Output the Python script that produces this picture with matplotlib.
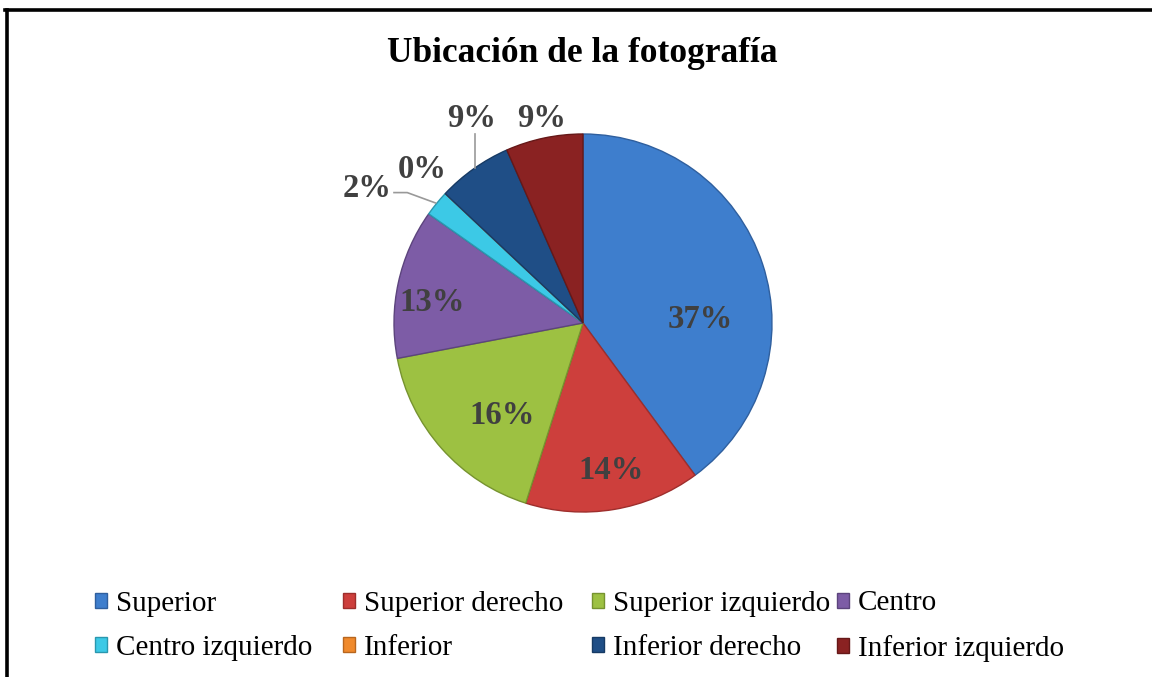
import matplotlib.pyplot as plt
from matplotlib.patches import Patch

# --- datos ---
categorias = ["Superior", "Superior derecho", "Superior izquierdo", "Centro",
              "Centro izquierdo", "Inferior", "Inferior derecho", "Inferior izquierdo"]
valores = [39.9, 15.0, 17.1, 12.8, 2.2, 0.0, 6.4, 6.6]   # tamaño de cada sector (leído)
etiquetas = ["37%", "14%", "16%", "13%", "2%", "0%", "9%", "9%"]
colores = ["#3E7ECD", "#CD3F3C", "#9DC142", "#7D5CA6",
           "#3CC9E6", "#F08A2C", "#1F4E86", "#8A2222"]
bordes = ["#2F5F9E", "#9E2E2C", "#76932F", "#5C447D",
          "#2A97AE", "#B8661E", "#163A64", "#661818"]

# posiciones de las etiquetas en unidades del radio
pos_etq = [(0.62, 0.02), (0.15, -0.78), (-0.43, -0.49), (-0.80, 0.11),
           (-1.14, 0.71), (-0.85, 0.81), (-0.59, 1.08), (-0.22, 1.08)]

W, H = 1152, 677
fig = plt.figure(figsize=(W / 100, H / 100), dpi=100)
fig.patch.set_facecolor("white")

# marco (solo borde superior e izquierdo visibles)
fig.add_artist(plt.Line2D([6.5 / W, 6.5 / W], [0, 1 - 10 / H], transform=fig.transFigure,
                          color="black", lw=2.6))
fig.add_artist(plt.Line2D([5 / W, 1], [1 - 10 / H, 1 - 10 / H], transform=fig.transFigure,
                          color="black", lw=2.6))

# titulo
fig.text(582 / W, 1 - 53 / H, "Ubicación de la fotografía", ha="center", va="center",
         fontsize=25.5, fontweight="bold", family="Liberation Serif", color="black")

# pastel
cx, cy, r = 583, 323, 189
ax = fig.add_axes([(cx - r) / W, (H - cy - r) / H, 2 * r / W, 2 * r / H])
wedges, _ = ax.pie(valores, colors=colores, startangle=90, counterclock=False,
                   radius=1.0, wedgeprops=dict(linewidth=1.0))
for w, b in zip(wedges, bordes):
    w.set_edgecolor(b)
ax.set_xlim(-1, 1)
ax.set_ylim(-1, 1)
ax.axis("off")

for (x, y), t in zip(pos_etq, etiquetas):
    ax.text(x, y, t, ha="center", va="center", fontsize=23.5, fontweight="bold",
            family="Liberation Serif", color="#404040")

# lineas guia
ax.plot([-1.0, -0.93, -0.78], [0.69, 0.69, 0.635], color="#999999", lw=1.2, clip_on=False)
ax.plot([-0.57, -0.57], [1.00, 0.82], color="#999999", lw=1.2, clip_on=False)

# leyenda: cuatro columnas de igual ancho
col_x = [95, 343, 592, 837]
for i, x0 in enumerate(col_x):
    idx = [i, i + 4]
    handles = [Patch(facecolor=colores[k], edgecolor=bordes[k]) for k in idx]
    labels = [categorias[k] for k in idx]
    fig.legend(handles, labels, loc="center left",
               bbox_to_anchor=(x0 / W, 1 - 626 / H), bbox_transform=fig.transFigure,
               frameon=False, borderpad=0, borderaxespad=0,
               handlelength=0.42, handleheight=0.42, handletextpad=0.3,
               labelspacing=0.62,
               prop=dict(family="Liberation Serif", size=21))

fig.savefig("out.png", dpi=100)
